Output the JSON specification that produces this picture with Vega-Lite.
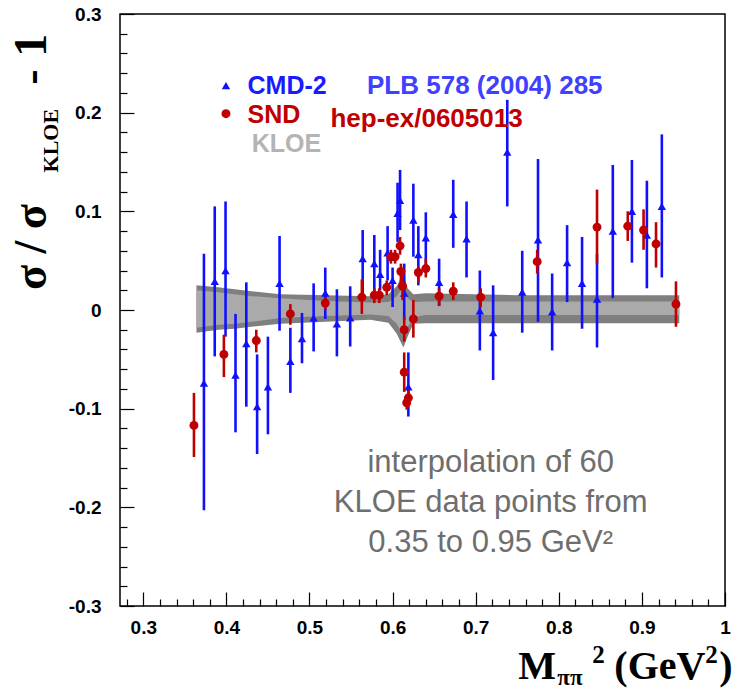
{
 "$schema": "https://vega.github.io/schema/vega-lite/v6.json",
 "width": 605, "height": 592,
 "autosize": "none",
 "padding": {"left": 120, "top": 14, "right": 19, "bottom": 86},
 "background": "white",
 "config": {
  "view": {"stroke": "black", "strokeWidth": 1.5},
  "axis": {"labelFont": "Liberation Sans", "labelFontWeight": "bold", "labelFontSize": 19, "labelColor": "black", "domain": false, "grid": false, "tickColor": "black", "tickWidth": 1.2, "labelOverlap": false, "labelFlush": false, "title": null}
 },
 "resolve": {"axis": {"x": "independent", "y": "independent"}},
 "datasets": {
  "band": [
   {"x": 0.364, "oh": 0.025, "ih": 0.020, "il": -0.018, "ol": -0.023},
   {"x": 0.39, "oh": 0.023, "ih": 0.018, "il": -0.015, "ol": -0.020},
   {"x": 0.41, "oh": 0.021, "ih": 0.016, "il": -0.014, "ol": -0.019},
   {"x": 0.43, "oh": 0.019, "ih": 0.014, "il": -0.012, "ol": -0.017},
   {"x": 0.465, "oh": 0.016, "ih": 0.012, "il": -0.008, "ol": -0.014},
   {"x": 0.52, "oh": 0.015, "ih": 0.009, "il": -0.006, "ol": -0.012},
   {"x": 0.573, "oh": 0.014, "ih": 0.0075, "il": -0.0045, "ol": -0.010},
   {"x": 0.595, "oh": 0.016, "ih": 0.008, "il": -0.006, "ol": -0.013},
   {"x": 0.605, "oh": 0.024, "ih": 0.014, "il": -0.014, "ol": -0.024},
   {"x": 0.613, "oh": 0.038, "ih": 0.024, "il": -0.026, "ol": -0.038},
   {"x": 0.618, "oh": 0.022, "ih": 0.012, "il": -0.018, "ol": -0.027},
   {"x": 0.625, "oh": 0.016, "ih": 0.008, "il": -0.007, "ol": -0.014},
   {"x": 0.64, "oh": 0.017, "ih": 0.0085, "il": -0.005, "ol": -0.0135},
   {"x": 0.75, "oh": 0.015, "ih": 0.0085, "il": -0.005, "ol": -0.0135},
   {"x": 0.945, "oh": 0.015, "ih": 0.0085, "il": -0.005, "ol": -0.0135}
  ],
  "cmd": [
   {"x": 0.373, "y": -0.074, "hi": 0.057, "lo": -0.203},
   {"x": 0.386, "y": 0.029, "hi": 0.105, "lo": -0.047},
   {"x": 0.399, "y": 0.040, "hi": 0.110, "lo": -0.027},
   {"x": 0.411, "y": -0.066, "hi": -0.004, "lo": -0.124},
   {"x": 0.424, "y": -0.034, "hi": 0.028, "lo": -0.098},
   {"x": 0.437, "y": -0.098, "hi": -0.045, "lo": -0.146},
   {"x": 0.450, "y": -0.078, "hi": -0.027, "lo": -0.126},
   {"x": 0.464, "y": 0.027, "hi": 0.075, "lo": -0.021},
   {"x": 0.477, "y": -0.052, "hi": -0.018, "lo": -0.084},
   {"x": 0.491, "y": -0.029, "hi": -0.003, "lo": -0.054},
   {"x": 0.505, "y": -0.008, "hi": 0.027, "lo": -0.042},
   {"x": 0.519, "y": 0.017, "hi": 0.043, "lo": -0.009},
   {"x": 0.533, "y": -0.014, "hi": 0.021, "lo": -0.047},
   {"x": 0.549, "y": -0.008, "hi": 0.024, "lo": -0.037},
   {"x": 0.564, "y": 0.052, "hi": 0.081, "lo": 0.013},
   {"x": 0.578, "y": 0.047, "hi": 0.076, "lo": 0.016},
   {"x": 0.585, "y": 0.036, "hi": 0.061, "lo": 0.020},
   {"x": 0.594, "y": 0.058, "hi": 0.085, "lo": 0.030},
   {"x": 0.600, "y": 0.030, "hi": 0.043, "lo": 0.003},
   {"x": 0.606, "y": 0.098, "hi": 0.129, "lo": 0.069},
   {"x": 0.609, "y": 0.111, "hi": 0.142, "lo": 0.081},
   {"x": 0.614, "y": 0.017, "hi": 0.047, "lo": -0.010},
   {"x": 0.619, "y": -0.078, "hi": -0.043, "lo": -0.108},
   {"x": 0.625, "y": 0.091, "hi": 0.128, "lo": 0.054},
   {"x": 0.631, "y": 0.056, "hi": 0.085, "lo": 0.025},
   {"x": 0.640, "y": 0.073, "hi": 0.099, "lo": 0.040},
   {"x": 0.656, "y": 0.028, "hi": 0.052, "lo": 0.004},
   {"x": 0.673, "y": 0.097, "hi": 0.132, "lo": 0.063},
   {"x": 0.689, "y": 0.072, "hi": 0.110, "lo": 0.033},
   {"x": 0.705, "y": -0.001, "hi": 0.040, "lo": -0.041},
   {"x": 0.721, "y": -0.023, "hi": 0.025, "lo": -0.071},
   {"x": 0.738, "y": 0.160, "hi": 0.213, "lo": 0.105},
   {"x": 0.756, "y": 0.018, "hi": 0.060, "lo": -0.023},
   {"x": 0.775, "y": 0.071, "hi": 0.153, "lo": -0.012},
   {"x": 0.792, "y": -0.002, "hi": 0.037, "lo": -0.041},
   {"x": 0.810, "y": 0.048, "hi": 0.086, "lo": 0.008},
   {"x": 0.828, "y": 0.027, "hi": 0.074, "lo": -0.019},
   {"x": 0.846, "y": 0.011, "hi": 0.057, "lo": -0.038},
   {"x": 0.865, "y": 0.080, "hi": 0.147, "lo": 0.012},
   {"x": 0.888, "y": 0.100, "hi": 0.152, "lo": 0.048},
   {"x": 0.906, "y": 0.076, "hi": 0.131, "lo": 0.022},
   {"x": 0.924, "y": 0.105, "hi": 0.178, "lo": 0.033}
  ],
  "snd": [
   {"x": 0.361, "y": -0.117, "hi": -0.084, "lo": -0.149},
   {"x": 0.397, "y": -0.045, "hi": -0.025, "lo": -0.068},
   {"x": 0.436, "y": -0.031, "hi": -0.020, "lo": -0.043},
   {"x": 0.477, "y": -0.004, "hi": 0.006, "lo": -0.015},
   {"x": 0.519, "y": 0.007, "hi": 0.013, "lo": 0.000},
   {"x": 0.563, "y": 0.013, "hi": 0.031, "lo": -0.004},
   {"x": 0.578, "y": 0.015, "hi": 0.022, "lo": 0.007},
   {"x": 0.584, "y": 0.015, "hi": 0.022, "lo": 0.007},
   {"x": 0.593, "y": 0.023, "hi": 0.030, "lo": 0.015},
   {"x": 0.598, "y": 0.054, "hi": 0.061, "lo": 0.047},
   {"x": 0.603, "y": 0.054, "hi": 0.061, "lo": 0.047},
   {"x": 0.609, "y": 0.065, "hi": 0.074, "lo": 0.056},
   {"x": 0.610, "y": 0.039, "hi": 0.047, "lo": 0.027},
   {"x": 0.612, "y": 0.024, "hi": 0.035, "lo": 0.010},
   {"x": 0.614, "y": -0.020, "hi": -0.007, "lo": -0.032},
   {"x": 0.625, "y": -0.009, "hi": 0.010, "lo": -0.028},
   {"x": 0.614, "y": -0.063, "hi": -0.043, "lo": -0.083},
   {"x": 0.619, "y": -0.089, "hi": -0.081, "lo": -0.096},
   {"x": 0.617, "y": -0.094, "hi": -0.086, "lo": -0.101},
   {"x": 0.631, "y": 0.038, "hi": 0.044, "lo": 0.028},
   {"x": 0.640, "y": 0.042, "hi": 0.052, "lo": 0.033},
   {"x": 0.656, "y": 0.014, "hi": 0.022, "lo": 0.004},
   {"x": 0.673, "y": 0.019, "hi": 0.028, "lo": 0.010},
   {"x": 0.706, "y": 0.013, "hi": 0.022, "lo": 0.003},
   {"x": 0.774, "y": 0.049, "hi": 0.061, "lo": 0.037},
   {"x": 0.846, "y": 0.084, "hi": 0.122, "lo": 0.047},
   {"x": 0.883, "y": 0.085, "hi": 0.100, "lo": 0.070},
   {"x": 0.902, "y": 0.081, "hi": 0.102, "lo": 0.061},
   {"x": 0.917, "y": 0.067, "hi": 0.089, "lo": 0.043},
   {"x": 0.941, "y": 0.006, "hi": 0.029, "lo": -0.017}
  ]
 },
 "layer": [
  {
   "data": {"name": "band"},
   "mark": {"type": "area", "color": "#7f7f7f", "opacity": 1},
   "encoding": {
    "x": {"field": "x", "type": "quantitative",
      "scale": {"domain": [0.272, 1.0], "nice": false, "zero": false},
      "axis": {"orient": "bottom", "values": [0.3,0.4,0.5,0.6,0.7,0.8,0.9,1.0],
        "labelExpr": "datum.value > 0.999 ? '1' : format(datum.value,'.1f')",
        "tickSize": -14, "labelPadding": 26}},
    "y": {"field": "ol", "type": "quantitative",
      "scale": {"domain": [-0.3, 0.3], "nice": false, "zero": false},
      "axis": {"orient": "left", "values": [-0.3,-0.2,-0.1,0,0.1,0.2,0.3],
        "labelExpr": "abs(datum.value) < 0.001 ? '0' : (datum.value < 0 ? '-' : '') + format(abs(datum.value),'.1f')",
        "tickSize": -14, "labelPadding": 33}},
    "y2": {"field": "oh"}
   }
  },
  {
   "data": {"name": "band"},
   "mark": {"type": "area", "color": "#aaaaaa", "opacity": 1},
   "encoding": {
    "x": {"field": "x", "type": "quantitative",
      "axis": {"orient": "bottom", "labels": false, "tickSize": -7,
        "values": [0.28,0.32,0.34,0.36,0.38,0.42,0.44,0.46,0.48,0.52,0.54,0.56,0.58,0.62,0.64,0.66,0.68,0.72,0.74,0.76,0.78,0.82,0.84,0.86,0.88,0.92,0.94,0.96,0.98]}},
    "y": {"field": "il", "type": "quantitative",
      "axis": {"orient": "left", "labels": false, "tickSize": -7,
        "values": [-0.28,-0.26,-0.24,-0.22,-0.18,-0.16,-0.14,-0.12,-0.08,-0.06,-0.04,-0.02,0.02,0.04,0.06,0.08,0.12,0.14,0.16,0.18,0.22,0.24,0.26,0.28]}},
    "y2": {"field": "ih"}
   }
  },
  {
   "data": {"name": "cmd"},
   "mark": {"type": "rule", "color": "#1010ff", "strokeWidth": 2.6},
   "encoding": {
    "x": {"field": "x", "type": "quantitative", "axis": null},
    "y": {"field": "lo", "type": "quantitative", "axis": null},
    "y2": {"field": "hi"}
   }
  },
  {
   "data": {"name": "cmd"},
   "mark": {"type": "point", "shape": "triangle-up", "filled": true, "color": "#1010ff", "opacity": 1, "size": 70},
   "encoding": {
    "x": {"field": "x", "type": "quantitative", "axis": null},
    "y": {"field": "y", "type": "quantitative", "axis": null}
   }
  },
  {
   "data": {"name": "snd"},
   "mark": {"type": "rule", "color": "#c00000", "strokeWidth": 2.6},
   "encoding": {
    "x": {"field": "x", "type": "quantitative", "axis": null},
    "y": {"field": "lo", "type": "quantitative", "axis": null},
    "y2": {"field": "hi"}
   }
  },
  {
   "data": {"name": "snd"},
   "mark": {"type": "point", "shape": "circle", "filled": true, "color": "#c00000", "opacity": 1, "size": 80},
   "encoding": {
    "x": {"field": "x", "type": "quantitative", "axis": null},
    "y": {"field": "y", "type": "quantitative", "axis": null}
   }
  },
  {
   "data": {"values": [{"x": 0.3995, "y": 0.2275, "s": "CMD-2"}]},
   "mark": {"type": "point", "shape": "triangle-up", "filled": true, "color": "#1010ff", "opacity": 1, "size": 70},
   "encoding": {"x": {"field": "x", "type": "quantitative", "axis": null}, "y": {"field": "y", "type": "quantitative", "axis": null}}
  },
  {
   "data": {"values": [{"x": 0.3995, "y": 0.199, "s": "SND"}]},
   "mark": {"type": "point", "shape": "circle", "filled": true, "color": "#c00000", "opacity": 1, "size": 80},
   "encoding": {"x": {"field": "x", "type": "quantitative", "axis": null}, "y": {"field": "y", "type": "quantitative", "axis": null}}
  },
  {
   "data": {"values": [{"x": 0.4255, "y": 0.227, "t": "CMD-2"}]},
   "mark": {"type": "text", "align": "left", "baseline": "middle", "font": "Liberation Sans", "fontWeight": "bold", "fontSize": 25, "color": "#1a1aff"},
   "encoding": {"x": {"field": "x", "type": "quantitative", "axis": null}, "y": {"field": "y", "type": "quantitative", "axis": null}, "text": {"field": "t"}}
  },
  {
   "data": {"values": [{"x": 0.4255, "y": 0.198, "t": "SND"}]},
   "mark": {"type": "text", "align": "left", "baseline": "middle", "font": "Liberation Sans", "fontWeight": "bold", "fontSize": 25, "color": "#c00000"},
   "encoding": {"x": {"field": "x", "type": "quantitative", "axis": null}, "y": {"field": "y", "type": "quantitative", "axis": null}, "text": {"field": "t"}}
  },
  {
   "data": {"values": [{"x": 0.4305, "y": 0.1685, "t": "KLOE"}]},
   "mark": {"type": "text", "align": "left", "baseline": "middle", "font": "Liberation Sans", "fontWeight": "bold", "fontSize": 25, "color": "#b4b4b4"},
   "encoding": {"x": {"field": "x", "type": "quantitative", "axis": null}, "y": {"field": "y", "type": "quantitative", "axis": null}, "text": {"field": "t"}}
  },
  {
   "data": {"values": [{"x": 0.5692, "y": 0.227, "t": "PLB 578 (2004) 285"}]},
   "mark": {"type": "text", "align": "left", "baseline": "middle", "font": "Liberation Sans", "fontWeight": "bold", "fontSize": 26, "color": "#4040ff"},
   "encoding": {"x": {"field": "x", "type": "quantitative", "axis": null}, "y": {"field": "y", "type": "quantitative", "axis": null}, "text": {"field": "t"}}
  },
  {
   "data": {"values": [{"x": 0.5252, "y": 0.1935, "t": "hep-ex/0605013"}]},
   "mark": {"type": "text", "align": "left", "baseline": "middle", "font": "Liberation Sans", "fontWeight": "bold", "fontSize": 26, "color": "#c00000"},
   "encoding": {"x": {"field": "x", "type": "quantitative", "axis": null}, "y": {"field": "y", "type": "quantitative", "axis": null}, "text": {"field": "t"}}
  },
  {
   "data": {"values": [
     {"x": 0.718, "y": -0.155, "t": "interpolation of 60"},
     {"x": 0.718, "y": -0.1955, "t": "KLOE data points from"},
     {"x": 0.718, "y": -0.236, "t": "0.35 to 0.95 GeV²"}]},
   "mark": {"type": "text", "align": "center", "baseline": "middle", "font": "Liberation Sans", "fontSize": 31, "color": "#6e6e6e"},
   "encoding": {"x": {"field": "x", "type": "quantitative", "axis": null}, "y": {"field": "y", "type": "quantitative", "axis": null}, "text": {"field": "t"}}
  },
  {
   "data": {"values": [{"x": 0.1833, "y": 0.0202, "t": "σ / σ"}, {"x": 0.1833, "y": 0.2283, "t": "-"}, {"x": 0.1833, "y": 0.2566, "t": "1"}]},
   "mark": {"type": "text", "align": "left", "baseline": "alphabetic", "angle": 270, "font": "Liberation Serif", "fontWeight": "bold", "fontSize": 46, "color": "black"},
   "encoding": {"x": {"field": "x", "type": "quantitative", "axis": null}, "y": {"field": "y", "type": "quantitative", "axis": null}, "text": {"field": "t"}}
  },
  {
   "data": {"values": [{"x": 0.1977, "y": 0.1394, "t": "KLOE"}]},
   "mark": {"type": "text", "align": "left", "baseline": "alphabetic", "angle": 270, "font": "Liberation Serif", "fontWeight": "bold", "fontSize": 22, "color": "black"},
   "encoding": {"x": {"field": "x", "type": "quantitative", "axis": null}, "y": {"field": "y", "type": "quantitative", "axis": null}, "text": {"field": "t"}}
  },
  {
   "data": {"values": [{"x": 0.7513, "y": -0.3737, "t": "M"}, {"x": 0.8668, "y": -0.3737, "t": "(GeV"}, {"x": 0.9931, "y": -0.3737, "t": ")"}]},
   "mark": {"type": "text", "align": "left", "baseline": "alphabetic", "font": "Liberation Serif", "fontWeight": "bold", "fontSize": 40, "color": "black"},
   "encoding": {"x": {"field": "x", "type": "quantitative", "axis": null}, "y": {"field": "y", "type": "quantitative", "axis": null}, "text": {"field": "t"}}
  },
  {
   "data": {"values": [{"x": 0.8403, "y": -0.3576, "t": "2"}, {"x": 0.9763, "y": -0.3576, "t": "2"}]},
   "mark": {"type": "text", "align": "left", "baseline": "alphabetic", "font": "Liberation Serif", "fontWeight": "bold", "fontSize": 25, "color": "black"},
   "encoding": {"x": {"field": "x", "type": "quantitative", "axis": null}, "y": {"field": "y", "type": "quantitative", "axis": null}, "text": {"field": "t"}}
  },
  {
   "data": {"values": [{"x": 0.7982, "y": -0.3798, "t": "ππ"}]},
   "mark": {"type": "text", "align": "left", "baseline": "alphabetic", "font": "Liberation Serif", "fontWeight": "bold", "fontSize": 23, "color": "black"},
   "encoding": {"x": {"field": "x", "type": "quantitative", "axis": null}, "y": {"field": "y", "type": "quantitative", "axis": null}, "text": {"field": "t"}}
  }
 ]
}
